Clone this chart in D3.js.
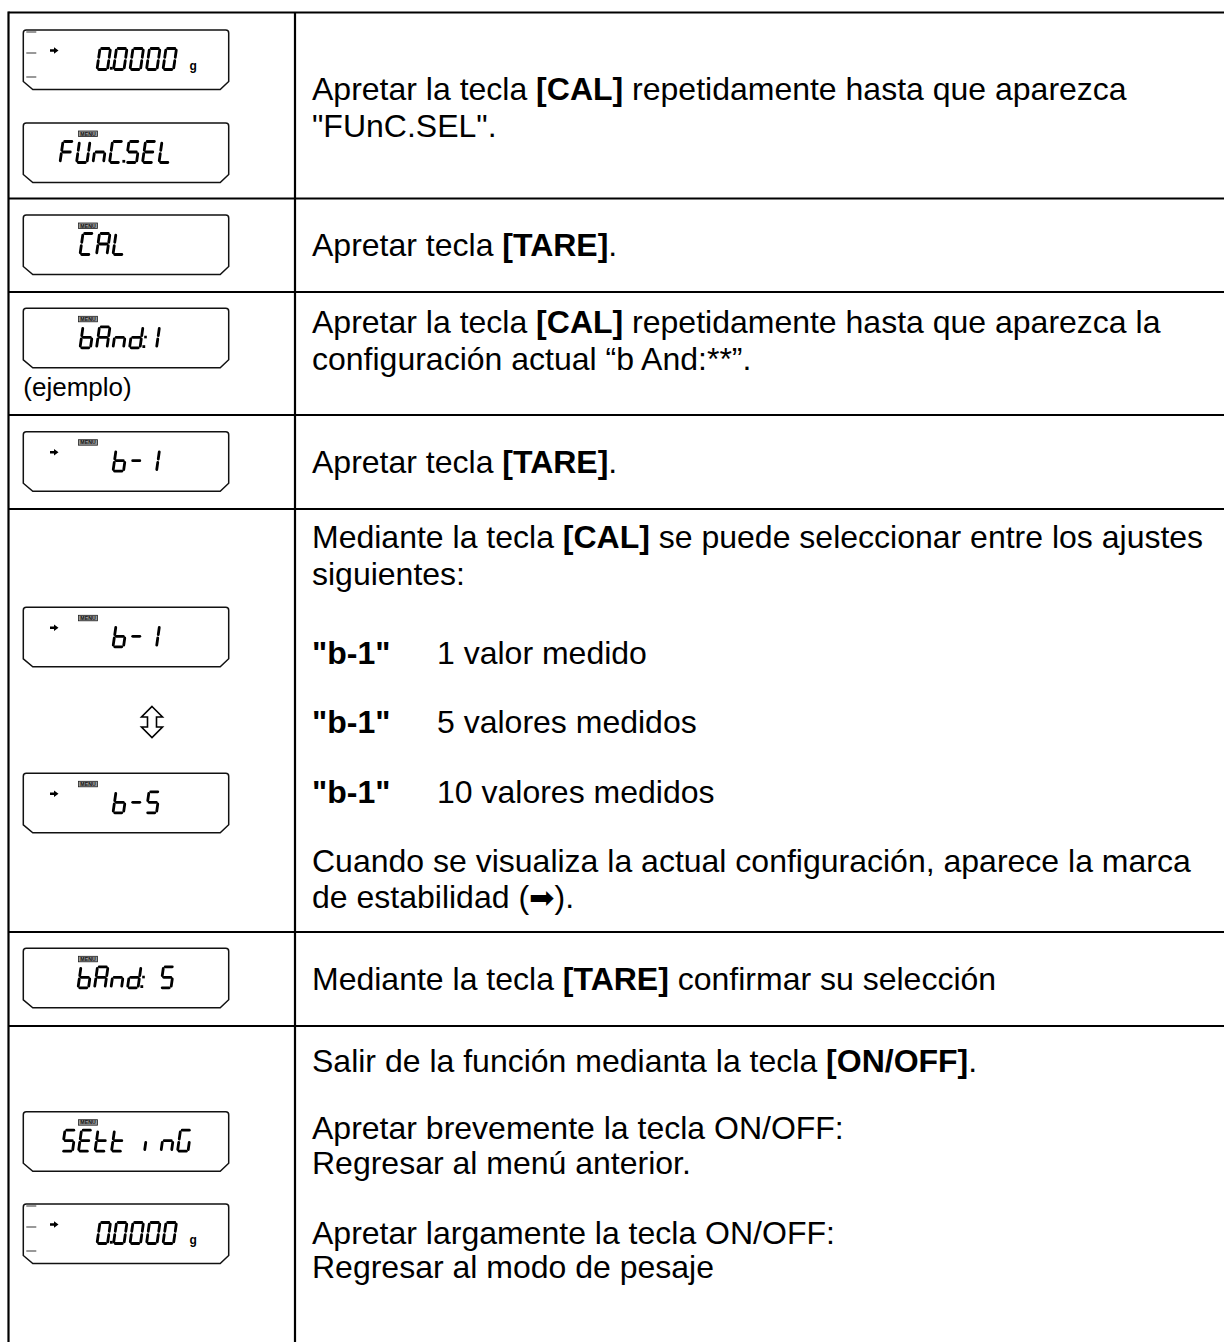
<!DOCTYPE html>
<html><head><meta charset="utf-8">
<script src="https://cdn.jsdelivr.net/npm/d3@7"></script>
<style>html,body{margin:0;padding:0;background:#fff;overflow:hidden}</style>
</head><body>
<svg id="c" width="1224" height="1342" xmlns="http://www.w3.org/2000/svg"></svg>
<script>
// ---------- content ----------
const rowTexts = [
  ["Apretar la tecla <b>[CAL]</b> repetidamente hasta que aparezca", "\"FUnC.SEL\"."],
  ["Apretar tecla <b>[TARE]</b>."],
  ["Apretar la tecla <b>[CAL]</b> repetidamente hasta que aparezca la", "configuración actual “b And:**”."],
  ["Apretar tecla <b>[TARE]</b>."],
  ["Mediante la tecla <b>[CAL]</b> se puede seleccionar entre los ajustes", "siguientes:",
   "<b>\"b-1\"</b>\t1 valor medido", "<b>\"b-1\"</b>\t5 valores medidos", "<b>\"b-1\"</b>\t10 valores medidos",
   "Cuando se visualiza la actual configuración, aparece la marca", "de estabilidad (<a>➡</a>)."],
  ["Mediante la tecla <b>[TARE]</b> confirmar su selección"],
  ["Salir de la función medianta la tecla <b>[ON/OFF]</b>.", "Apretar brevemente la tecla ON/OFF:",
   "Regresar al menú anterior.", "Apretar largamente la tecla ON/OFF:", "Regresar al modo de pesaje"]
];
const displayTexts = ["0.0000", "FUnC.SEL", "CAL", "bAnd:1", "b-1", "b-1", "b-5", "bAnd: 5", "SEtt inG", "0.0000"];
const displayMenu  = [false, true, true, true, true, true, true, true, true, false];
const displayArrow = [true, false, false, false, true, true, true, false, false, true];
const displayUnit  = ["g", "", "", "", "", "", "", "", "", "g"];
const displayBars  = [true, false, false, false, false, false, false, false, false, true];
const captionText  = "(ejemplo)";

// ---------- layout ----------
const L = {
  W: 1224, H: 1342,
  left: 8.5, colX: 295, top: 12.5,
  rows: [12.5, 198.5, 292, 415, 509, 932, 1026, 1342],
  textX: 312, tabX: 437,
  baselines: [[100,137],[256],[333,370],[473],[548,585,664,733,803,872,908],[990],[1072,1139,1174,1244,1278]],
  dispX0: 23.3, dispX1: 228.7,
  dispTops: [30, 123, 215, 308.3, 431.7, 607.3, 773.3, 948.3, 1111.7, 1204],
  dispStart: [97, 60, 80, 80, 113, 113, 113, 78, 62, 97],
  dispH: 59.5,
  pitch: 16.5, cellW: 10.5, digH: 21, digTop: 18.5, seg: 2.8, slant: 3,
  captionY: 396,
  swapY: 722, swapX: 152
};

const svg = d3.select("#c");
const FONT = "'Liberation Sans', Arial, Helvetica, sans-serif";
const FS = 32;

// table lines
const g = svg.append("g").attr("stroke", "#000").attr("stroke-width", 2.2).attr("fill", "none");
g.append("line").attr("x1", L.left).attr("x2", L.W).attr("y1", L.top).attr("y2", L.top);
g.append("line").attr("x1", L.left).attr("x2", L.left).attr("y1", L.top - 1.1).attr("y2", L.H);
g.append("line").attr("x1", L.colX).attr("x2", L.colX).attr("y1", L.top).attr("y2", L.H);
g.selectAll("line.r").data(L.rows.slice(1, -1)).join("line").attr("class", "r")
  .attr("x1", L.left).attr("x2", L.W).attr("y1", d => d).attr("y2", d => d);

// text
function addRich(sel, str) {
  const parts = str.split(/(<b>.*?<\/b>|<a>.*?<\/a>|\t)/).filter(s => s.length);
  let tab = false;
  parts.forEach(p => {
    if (p === "\t") { tab = true; return; }
    let ts;
    if (p.startsWith("<b>")) ts = sel.append("tspan").attr("font-weight", "bold").text(p.slice(3, -4));
    else if (p.startsWith("<a>")) ts = sel.append("tspan").attr("font-family", "'DejaVu Sans', sans-serif").attr("font-size", FS * 0.95).text(p.slice(3, -4));
    else ts = sel.append("tspan").text(p);
    if (tab) { ts.attr("x", L.tabX); tab = false; }
  });
}
const tg = svg.append("g").attr("font-family", FONT).attr("font-size", FS).attr("fill", "#000");
rowTexts.forEach((lines, ri) => {
  lines.forEach((ln, li) => {
    const t = tg.append("text").attr("x", L.textX).attr("y", L.baselines[ri][li]).attr("xml:space", "preserve");
    addRich(t, ln);
  });
});

// caption
svg.append("text").attr("x", L.dispX0).attr("y", L.captionY).attr("font-family", FONT)
  .attr("font-size", 26).text(captionText);

// 7-seg
const SEGMAP = {
  "0": "abcdef", "1": "bc", "5": "acdfg", "S": "acdfg", "F": "aefg", "U": "bcdef", "n": "ceg",
  "C": "adef", "E": "adefg", "L": "def", "A": "abcefg", "b": "cdefg", "d": "bcdeg", "-": "g",
  "t": "defg", "i": "e", "G": "acdef", " ": ""
};
const SEGS = { a: [0,0,1,0], b: [1,0,1,.5], c: [1,.5,1,1], d: [0,1,1,1], e: [0,.5,0,1], f: [0,0,0,.5], g: [0,.5,1,.5] };

function drawDisplay(i) {
  const top = L.dispTops[i], x0 = L.dispX0, x1 = L.dispX1, bot = top + L.dispH;
  const dg = svg.append("g");
  const r = 3, cx = 9.5, cy = 8;
  const p = d3.path();
  p.moveTo(x0 + r, top); p.lineTo(x1 - r, top); p.quadraticCurveTo(x1, top, x1, top + r);
  p.lineTo(x1, bot - cy); p.lineTo(x1 - cx + 1, bot); p.lineTo(x0 + cx, bot); p.lineTo(x0, bot - cy);
  p.lineTo(x0, top + r); p.quadraticCurveTo(x0, top, x0 + r, top); p.closePath();
  dg.append("path").attr("d", p.toString()).attr("fill", "#fff").attr("stroke", "#111").attr("stroke-width", 1.5);

  if (displayBars[i]) {
    [2, 23, 47].forEach(dy => dg.append("line").attr("x1", x0 + 3).attr("x2", x0 + 13)
      .attr("y1", top + dy).attr("y2", top + dy).attr("stroke", "#555").attr("stroke-width", 1.2));
  }
  if (displayArrow[i]) {
    const ay = top + 20.5, ax = 50;
    dg.append("path").attr("d", `M${ax},${ay-1.2}L${ax+4},${ay-1.2}L${ax+4},${ay-3.2}L${ax+8.5},${ay}L${ax+4},${ay+3.2}L${ax+4},${ay+1.2}L${ax},${ay+1.2}Z`)
      .attr("fill", "#000");
  }
  if (displayMenu[i]) {
    dg.append("rect").attr("x", 78.5).attr("y", top + 8).attr("width", 19).attr("height", 5.5)
      .attr("fill", "#999").attr("stroke", "#222").attr("stroke-width", 0.8);
    dg.append("text").attr("x", 88).attr("y", top + 12.6).attr("text-anchor", "middle")
      .attr("font-family", FONT).attr("font-weight", "bold").attr("font-size", 5.2).attr("fill", "#111").text("MENU");
  }
  if (displayUnit[i]) {
    dg.append("text").attr("x", 189.5).attr("y", top + 40).attr("font-family", FONT).attr("font-weight", "bold")
      .attr("font-size", 12).text(displayUnit[i]);
  }
  // characters
  const txt = displayTexts[i];
  const dTop = top + L.digTop, h = L.digH, w = L.cellW;
  let k = -1;
  const sg = dg.append("g").attr("stroke", "#000").attr("stroke-width", L.seg).attr("stroke-linecap", "round");
  const X = (cxp, yy) => cxp + (1 - yy) * L.slant; // skew
  for (const ch of txt) {
    if (ch === "." || ch === ":") {
      const bx = L.dispStart[i] + k * L.pitch + w + 2.4;
      sg.append("rect").attr("x", bx).attr("y", dTop + h - 2.6).attr("width", 2.8).attr("height", 2.8).attr("fill", "#000").attr("stroke", "none");
      if (ch === ":") sg.append("rect").attr("x", bx + L.slant * 0.6).attr("y", dTop + h * 0.55 - 2.6).attr("width", 2.6).attr("height", 2.6).attr("fill", "#000").attr("stroke", "none");
      continue;
    }
    k++;
    const cx0 = L.dispStart[i] + k * L.pitch;
    const segs = SEGMAP[ch] || "";
    for (const s of segs) {
      const [ax, ay, bx, by] = SEGS[s];
      const gap = 1.7;
      let xA = cx0 + ax * w, yA = dTop + ay * h, xB = cx0 + bx * w, yB = dTop + by * h;
      if (ay === by) { xA += gap; xB -= gap; } else { yA += gap; yB -= gap; }
      sg.append("line")
        .attr("x1", X(xA, (yA - dTop) / h)).attr("y1", yA)
        .attr("x2", X(xB, (yB - dTop) / h)).attr("y2", yB);
    }
  }
}
displayTexts.forEach((d, i) => drawDisplay(i));

// up/down outline arrow
(function () {
  const cx = L.swapX, cy = L.swapY;
  const pts = [[0,-15.5],[10.5,-5],[4.5,-5],[4.5,5],[10.5,5],[0,15.5],[-10.5,5],[-4.5,5],[-4.5,-5],[-10.5,-5]];
  svg.append("path").attr("d", d3.line()(pts.map(p => [cx + p[0], cy + p[1]])) + "Z")
    .attr("fill", "#fff").attr("stroke", "#000").attr("stroke-width", 1.6).attr("stroke-linejoin", "miter");
})();
</script>
</body></html>
